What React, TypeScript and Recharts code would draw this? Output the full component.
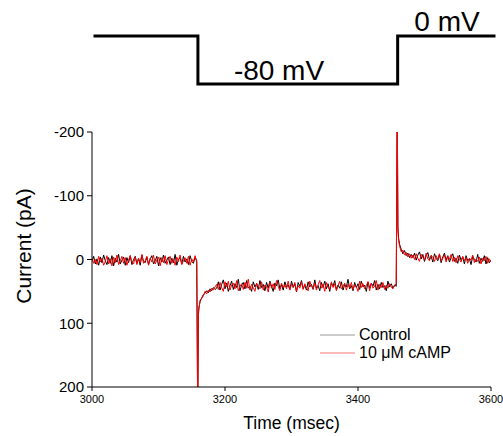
import React from 'react';
import { LineChart, Line, XAxis, YAxis } from 'recharts';

// Voltage protocol
const voltTimes = [3004.5, 3159.4, 3159.4, 3460, 3460, 3605];
const voltValues = [0, 0, -80, -80, 0, 0];
const voltLabels = ['-80 mV', '0 mV'];

// Current traces (pA)
const timesA = [3000,3002.5,3005,3007.5,3010,3012.5,3015,3017.5,3020,3022.5,3025,3027.5,3030,3032.5,3035,3037.5,3040,3042.5,3045,3047.5,3050,3052.5,3055,3057.5,3060,3062.5,3065,3067.5,3070,3072.5,3075,3077.5,3080,3082.5,3085,3087.5,3090,3092.5,3095,3097.5,3100,3102.5,3105,3107.5,3110,3112.5,3115,3117.5,3120,3122.5,3125,3127.5,3130,3132.5,3135,3137.5,3140,3142.5,3145,3147.5,3150,3152.5,3155,3157.5];
const controlA = [3,-5,7,-1,9,-4,5,-7,2,8,-3,6,-6,10,-2,4,-8,7,1,-4,9,-3,5,-6,8,0,-5,6,-2,9,-7,3,
  5,-4,8,-1,-6,7,2,-5,10,-3,4,-7,6,1,-4,8,-2,5,-8,9,0,-3,7,-5,4,-1,8,-6,3,6,-4,2];
const campA = [-3,6,0,8,-5,4,-2,9,3,-6,7,-1,10,-4,5,-7,8,2,-5,6,-3,9,1,-6,4,7,-4,8,-2,5,-8,6,
  2,-5,9,-2,4,-7,7,1,-4,10,-3,5,-6,8,0,-5,6,-1,9,-4,3,-7,8,2,-3,6,-5,9,-1,4,-6,5];

const timesT1 = [3159,3160,3161,3162.5,3165,3167.5,3170,3172.5,3175,3177.5,3180,3182.5,3185];
const controlT1 = [250,88,74,66,60,55,53,49,52,46,49,44,47];
const campT1 = [250,80,76,64,61,57,50,54,48,51,45,48,43];

const timesB = [3187.5,3190,3192.5,3195,3197.5,3200,3202.5,3205,3207.5,3210,3212.5,3215,3217.5,3220,3222.5,3225,3227.5,3230,3232.5,3235,3237.5,3240,3242.5,3245,3247.5,3250,3252.5,3255,3257.5,3260,3262.5,3265,3267.5,3270,3272.5,3275,3277.5,3280,3282.5,3285,3287.5,3290,3292.5,3295,3297.5,3300,3302.5,3305,3307.5,3310,3312.5,3315,3317.5,3320,3322.5,3325,3327.5,3330,3332.5,3335,3337.5,3340,3342.5,3345,3347.5,3350,3352.5,3355,3357.5,3360,3362.5,3365,3367.5,3370,3372.5,3375,3377.5,3380,3382.5,3385,3387.5,3390,3392.5,3395,3397.5,3400,3402.5,3405,3407.5,3410,3412.5,3415,3417.5,3420,3422.5,3425,3427.5,3430,3432.5,3435,3437.5,3440,3442.5,3445,3447.5,3450,3452.5,3455];
const controlB = [45,35,48,39,32,46,37,50,41,34,47,38,44,31,49,40,36,46,33,45,42,50,35,43,38,47,33,
  44,39,49,36,45,34,42,50,37,41,32,46,39,48,35,43,40,47,34,44,38,51,36,42,33,46,40,
  48,35,43,39,47,32,45,41,49,36,44,34,46,38,50,37,42,33,47,40,45,35,48,39,43,31,46,
  41,49,36,44,38,47,34,43,40,50,35,45,37,42,33,48,39,46,36,44,41,49,34,43,38,45,40];
const campB = [39,47,36,44,50,35,43,34,48,40,37,46,33,49,42,38,47,36,45,31,48,39,44,50,37,42,46,
  35,48,40,43,51,36,45,38,47,33,42,49,37,44,40,46,34,48,39,43,36,50,41,45,35,47,38,
  44,49,34,42,46,37,48,40,33,45,39,50,36,43,47,35,44,38,49,41,34,46,42,37,48,39,45,
  36,47,40,43,50,34,44,38,46,41,35,49,37,45,42,33,48,39,44,36,47,40,45,38,43,46,41];

const timesT2 = [3457.5,3459,3460,3461,3462.5,3465,3467.5,3470,3472.5,3475,3477.5,3480];
const controlT2 = [42,-250,-52,-34,-24,-16,-9,-14,-6,-10,-3,-8];
const campT2 = [38,-250,-46,-30,-21,-12,-15,-7,-11,-4,-9,-2];

const timesC = [3482.5,3485,3487.5,3490,3492.5,3495,3497.5,3500,3502.5,3505,3507.5,3510,3512.5,3515,3517.5,3520,3522.5,3525,3527.5,3530,3532.5,3535,3537.5,3540,3542.5,3545,3547.5,3550,3552.5,3555,3557.5,3560,3562.5,3565,3567.5,3570,3572.5,3575,3577.5,3580,3582.5,3585,3587.5,3590,3592.5,3595,3597.5,3600];
const controlC = [-3,-10,1,-7,-12,-1,-8,3,-6,-11,0,-5,4,-9,-2,2,-8,5,-4,-10,1,-6,4,-3,
  -9,3,-2,6,-7,1,-4,7,-6,2,-1,8,-5,0,4,-8,6,-2,3,-6,7,-3,5,1];
const campC = [-7,0,-9,-2,3,-8,-4,1,-10,-1,2,-7,-3,3,-6,0,-9,2,-2,-7,4,-5,0,-8,
  3,-4,5,-6,0,4,-5,2,-3,6,-2,1,-7,5,-1,3,-4,7,-2,2,-5,6,-1,4];

const xTicks = [3000, 3200, 3400, 3600];
const yTicks = [-200, -100, 0, 100, 200];
const seriesNames = ['Control', '10 \u03bcM cAMP'];

const times = [...timesA, ...timesT1, ...timesB, ...timesT2, ...timesC];
const control = [...controlA, ...controlT1, ...controlB, ...controlT2, ...controlC];
const camp = [...campA, ...campT1, ...campB, ...campT2, ...campC];
const traceData = times.map((t, i) => ({ t, control: control[i], camp: camp[i] }));
const voltData = voltTimes.map((t, i) => ({ t, v: voltValues[i] }));

const FONT = '"Liberation Sans", Arial, Helvetica, sans-serif';

export default function App() {
  return (
    <div style={{ position: 'absolute', left: 0, top: 0, width: 503, height: 436, background: '#fff', fontFamily: FONT }}>
      <div style={{ position: 'absolute', left: 0, top: 0 }}>
        <LineChart width={503} height={110} data={voltData} margin={{ top: 36, right: 9, bottom: 26, left: 92 }}>
          <XAxis dataKey="t" type="number" domain={[3000, 3605]} hide />
          <YAxis type="number" domain={[-80, 0]} hide />
          <Line dataKey="v" stroke="#000" strokeWidth={3} dot={false} isAnimationActive={false} strokeLinejoin="miter" strokeLinecap="square" />
          <text x={279} y={80} textAnchor="middle" fontSize={28} fontFamily={FONT} fill="#000">{voltLabels[0]}</text>
          <text x={447} y={31} textAnchor="middle" fontSize={28} fontFamily={FONT} fill="#000">{voltLabels[1]}</text>
        </LineChart>
      </div>
      <div style={{ position: 'absolute', left: 0, top: 0 }}>
        <LineChart width={503} height={436} data={traceData} margin={{ top: 132, right: 12, bottom: 19, left: 32 }}>
          <XAxis
            dataKey="t"
            type="number"
            domain={[3000, 3600]}
            ticks={xTicks}
            height={30}
            tickSize={4}
            tickMargin={4}
            stroke="#000"
            tick={{ fill: '#000', fontSize: 11, fontFamily: FONT }}
            allowDataOverflow
          />
          <YAxis
            type="number"
            domain={[-200, 200]}
            ticks={yTicks}
            reversed
            width={60}
            tickSize={5}
            tickMargin={3}
            stroke="#000"
            tick={{ fill: '#000', fontSize: 15, fontFamily: FONT }}
            allowDataOverflow
          />
          <Line dataKey="control" stroke="#000" strokeWidth={1} dot={false} isAnimationActive={false} />
          <Line dataKey="camp" stroke="#ff0000" strokeWidth={1} dot={false} isAnimationActive={false} />
          <text x={31} y={246} transform="rotate(-90, 31, 246)" textAnchor="middle" fontSize={21} fontFamily={FONT} fill="#000">Current (pA)</text>
          <text x={291.5} y={429} textAnchor="middle" fontSize={17.5} fontFamily={FONT} fill="#000">Time (msec)</text>
          <line x1={320} y1={335} x2={355} y2={335} stroke="#999" strokeWidth={1} />
          <text x={359} y={340} fontSize={16} fontFamily={FONT} fill="#000">{seriesNames[0]}</text>
          <line x1={320} y1={353} x2={355} y2={353} stroke="#f77" strokeWidth={1} />
          <text x={359} y={358} fontSize={16} fontFamily={FONT} fill="#000">{seriesNames[1]}</text>
        </LineChart>
      </div>
    </div>
  );
}
